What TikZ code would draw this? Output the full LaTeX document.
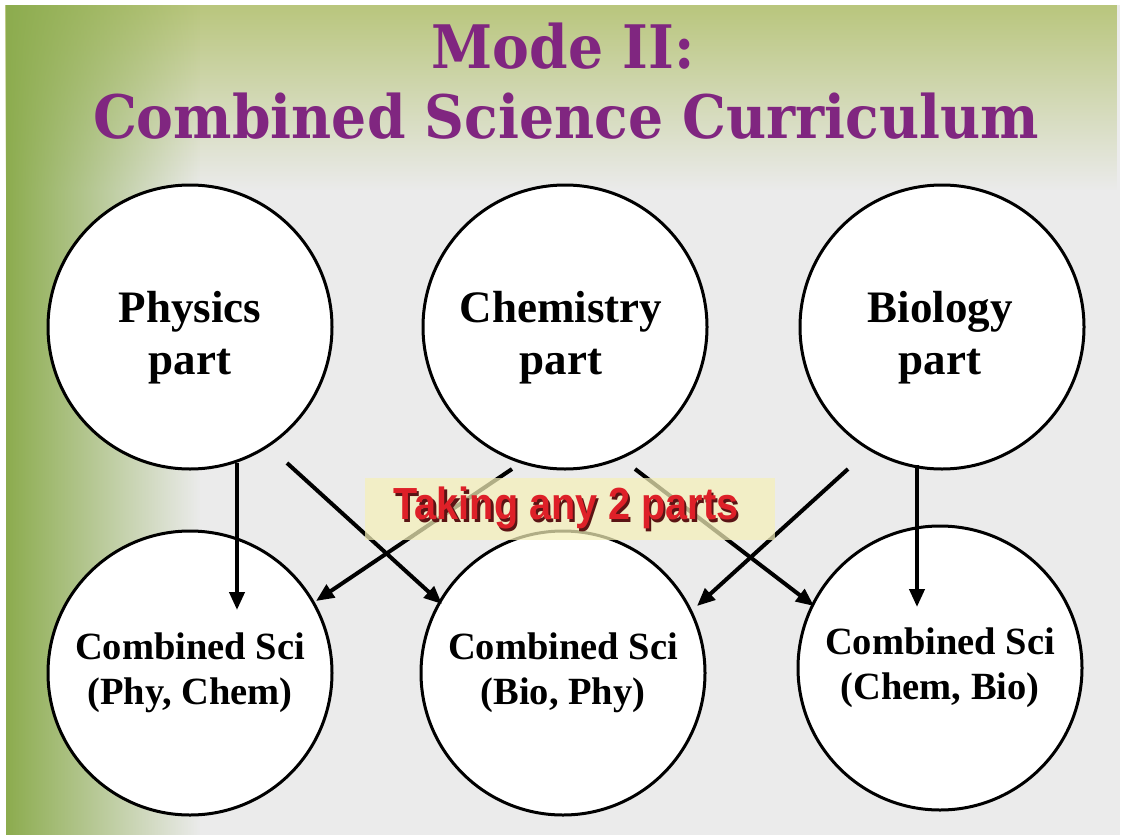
\documentclass[tikz,border=0pt]{standalone}
\usepackage{fontspec}
\setmainfont{Liberation Serif}
\newfontfamily\titlefont{DejaVu Serif}
\newfontfamily\labelfont{Liberation Sans}
\usetikzlibrary{arrows.meta,fadings}
\definecolor{bgcol}{RGB}{235,235,235}
\definecolor{grass}{RGB}{140,172,78}
\definecolor{grasstop}{RGB}{185,198,125}
\definecolor{titlecol}{RGB}{128,38,128}
\definecolor{redtext}{RGB}{222,32,40}
\definecolor{redshadow}{RGB}{90,20,20}
\definecolor{boxcol}{RGB}{245,240,185}
\begin{document}
\begin{tikzpicture}[x=1pt,y=-1pt,
  topcirc/.style={circle,draw,line width=3pt,fill=white,minimum size=284pt,inner sep=0pt},
  toptext/.style={align=center,font=\fontsize{45}{52}\selectfont\bfseries},
  botcirc/.style={circle,draw,line width=3pt,fill=white,minimum size=284pt,inner sep=0pt,align=center,
    font=\fontsize{38.5}{45}\selectfont\bfseries},
  link/.style={line width=4pt,-{Triangle[length=18pt,width=15pt]}},
  titletext/.style={text=titlecol,font=\titlefont\fontsize{60}{64}\selectfont\bfseries}]
\useasboundingbox (0,0) rectangle (1124,835);
% background
\fill[white] (0,0) rectangle (1124,835);
\fill[bgcol] (6,5) rectangle (1120,835);
\fill[grasstop,path fading=south] (6,5) rectangle (1120,190);
\fill[grass,path fading=east] (6,5) rectangle (200,835);
% title
\node[titletext,xscale=0.92] (t1) at (563,46) {Mode II:};
\node[titletext,xscale=0.92] (t2) at (566,116) {Combined Science Curriculum};
% top circles
\node[topcirc] (phy) at (190,327) {};
\node[topcirc] (chem) at (565,327) {};
\node[topcirc] (bio) at (942,327) {};
\node[toptext] (phyt) at (190,338) {Physics\\part};
\node[toptext] (chemt) at (561,338) {Chemistry\\part};
\node[toptext] (biot) at (940,338) {Biology\\part};
% bottom circles
\node[botcirc] (pc) at (190,673) {Combined Sci\\(Phy, Chem)};
\node[botcirc] (bp) at (563,673) {Combined Sci\\(Bio, Phy)};
\node[botcirc] (cb) at (940,668) {Combined Sci\\(Chem, Bio)};
% arrow endpoints
\coordinate (s1) at (237,463); \coordinate (e1) at (237,610);
\coordinate (s2) at (287,463); \coordinate (e2) at (442,604);
\coordinate (s3) at (512,469); \coordinate (e3) at (316,601);
\coordinate (s4) at (635,469); \coordinate (e4) at (814,606);
\coordinate (s5) at (848,469); \coordinate (e5) at (697,606);
\coordinate (s6) at (917,465); \coordinate (e6) at (917,607);
\draw[link] (s1) -- (e1);
\draw[link] (s2) -- (e2);
\draw[link] (s3) -- (e3);
\draw[link] (s4) -- (e4);
\draw[link] (s5) -- (e5);
\draw[link] (s6) -- (e6);
% label
\node[fill=boxcol,fill opacity=0.72,minimum width=410pt,minimum height=62pt,inner sep=0pt] (box) at (570,509) {};
\node[text=redtext,font=\labelfont\fontsize{45}{48}\selectfont\bfseries,xscale=0.88] (lbl) at (566,509.5)
  {\makebox[0pt][l]{\hspace{2.5pt}\raisebox{-2.5pt}{\color{redshadow}Taking any 2 parts}}Taking any 2 parts};
\end{tikzpicture}
\end{document}
